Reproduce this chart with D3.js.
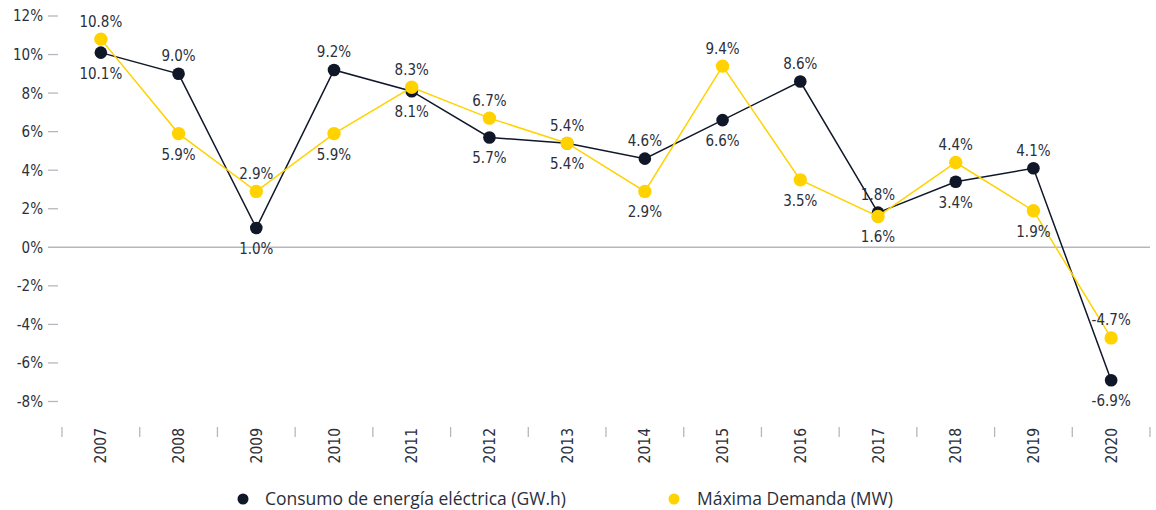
<!DOCTYPE html>
<html>
<head>
<meta charset="utf-8">
<script src="https://cdn.jsdelivr.net/npm/d3@7"></script>
<style>
  html, body { margin: 0; padding: 0; background: #ffffff; }
  svg { display: block; }
</style>
</head>
<body>
<svg id="chart" width="1156" height="510"></svg>
<script>
// Annual growth rates (%)
const years = ["2007","2008","2009","2010","2011","2012","2013","2014","2015","2016","2017","2018","2019","2020"];
const consumo = [10.1, 9.0, 1.0, 9.2, 8.1, 5.7, 5.4, 4.6, 6.6, 8.6, 1.8, 3.4, 4.1, -6.9];
const maxDemanda = [10.8, 5.9, 2.9, 5.9, 8.3, 6.7, 5.4, 2.9, 9.4, 3.5, 1.6, 4.4, 1.9, -4.7];
// Label placement for each point: 1 = above, -1 = below
const consumoLabelPos = [-1, 1, -1, 1, -1, -1, -1, 1, -1, 1, 1, -1, 1, -1];
const maxDemandaLabelPos = [1, -1, 1, -1, 1, 1, 1, -1, 1, -1, -1, 1, -1, 1];
const yTicks = [12, 10, 8, 6, 4, 2, 0, -2, -4, -6, -8];
const seriesNames = ["Consumo de energía eléctrica (GW.h)", "Máxima Demanda (MW)"];

const DARK = "#0f1729";
const YELLOW = "#ffd200";
const GRID = "#b4b8be";
const TEXT = "#2b2f3c";
const FONT = "'DejaVu Sans Condensed', 'DejaVu Sans', sans-serif";

const svg = d3.select("#chart");

const x = d3.scaleBand().domain(years).range([62, 1150]).padding(0);
const y = d3.scaleLinear().domain([-8, 12]).range([401.5, 16]);

// Y axis labels and short tick marks (the 0% tick runs across as baseline)
const yAxis = svg.append("g");
yTicks.forEach(t => {
  yAxis.append("line")
    .attr("x1", 48).attr("x2", t === 0 ? 1150 : 58)
    .attr("y1", y(t)).attr("y2", y(t))
    .attr("stroke", GRID).attr("stroke-width", t === 0 ? 1.5 : 1.3);
  yAxis.append("text")
    .attr("x", 43).attr("y", y(t))
    .attr("dy", "0.36em")
    .attr("text-anchor", "end")
    .attr("font-family", FONT).attr("font-size", 15)
    .attr("fill", TEXT)
    .text(t + "%");
});

// X axis: category boundary ticks and rotated year labels
const xAxis = svg.append("g");
const bounds = years.map(d => x(d)).concat([x.range()[1]]);
bounds.forEach(b => {
  xAxis.append("line")
    .attr("x1", b).attr("x2", b)
    .attr("y1", 427).attr("y2", 437)
    .attr("stroke", GRID).attr("stroke-width", 1.3);
});
years.forEach(d => {
  const cx = x(d) + x.bandwidth() / 2;
  xAxis.append("text")
    .attr("transform", `translate(${cx},428) rotate(-90)`)
    .attr("text-anchor", "end")
    .attr("dy", "0.36em")
    .attr("font-family", FONT).attr("font-size", 15.5)
    .attr("fill", TEXT)
    .text(d);
});

const cxOf = i => x(years[i]) + x.bandwidth() / 2;

function drawSeries(values, color, radius, lineWidth) {
  const line = d3.line().x((d, i) => cxOf(i)).y(d => y(d));
  svg.append("path")
    .datum(values)
    .attr("d", line)
    .attr("fill", "none")
    .attr("stroke", color)
    .attr("stroke-width", lineWidth);
  svg.append("g").selectAll("circle")
    .data(values).join("circle")
    .attr("cx", (d, i) => cxOf(i))
    .attr("cy", d => y(d))
    .attr("r", radius)
    .attr("fill", color);
}

function drawLabels(values, positions) {
  svg.append("g").selectAll("text")
    .data(values).join("text")
    .attr("x", (d, i) => cxOf(i))
    .attr("y", (d, i) => y(d) + (positions[i] > 0 ? -12.5 : 26))
    .attr("text-anchor", "middle")
    .attr("font-family", FONT).attr("font-size", 15)
    .attr("fill", TEXT)
    .text(d => d.toFixed(1) + "%");
}

drawSeries(consumo, DARK, 6.3, 1.5);
drawSeries(maxDemanda, YELLOW, 6.7, 1.5);
drawLabels(consumo, consumoLabelPos);
drawLabels(maxDemanda, maxDemandaLabelPos);

// Legend
const legend = svg.append("g");
const legendItems = [
  { name: seriesNames[0], color: DARK, cx: 243, tx: 265 },
  { name: seriesNames[1], color: YELLOW, cx: 674, tx: 697 }
];
legendItems.forEach(it => {
  legend.append("circle")
    .attr("cx", it.cx).attr("cy", 499).attr("r", 5.5)
    .attr("fill", it.color);
  legend.append("text")
    .attr("x", it.tx).attr("y", 499)
    .attr("dy", "0.36em")
    .attr("font-family", "'Open Sans', sans-serif")
    .attr("font-size", 17.5)
    .attr("fill", TEXT)
    .text(it.name);
});
</script>
</body>
</html>
